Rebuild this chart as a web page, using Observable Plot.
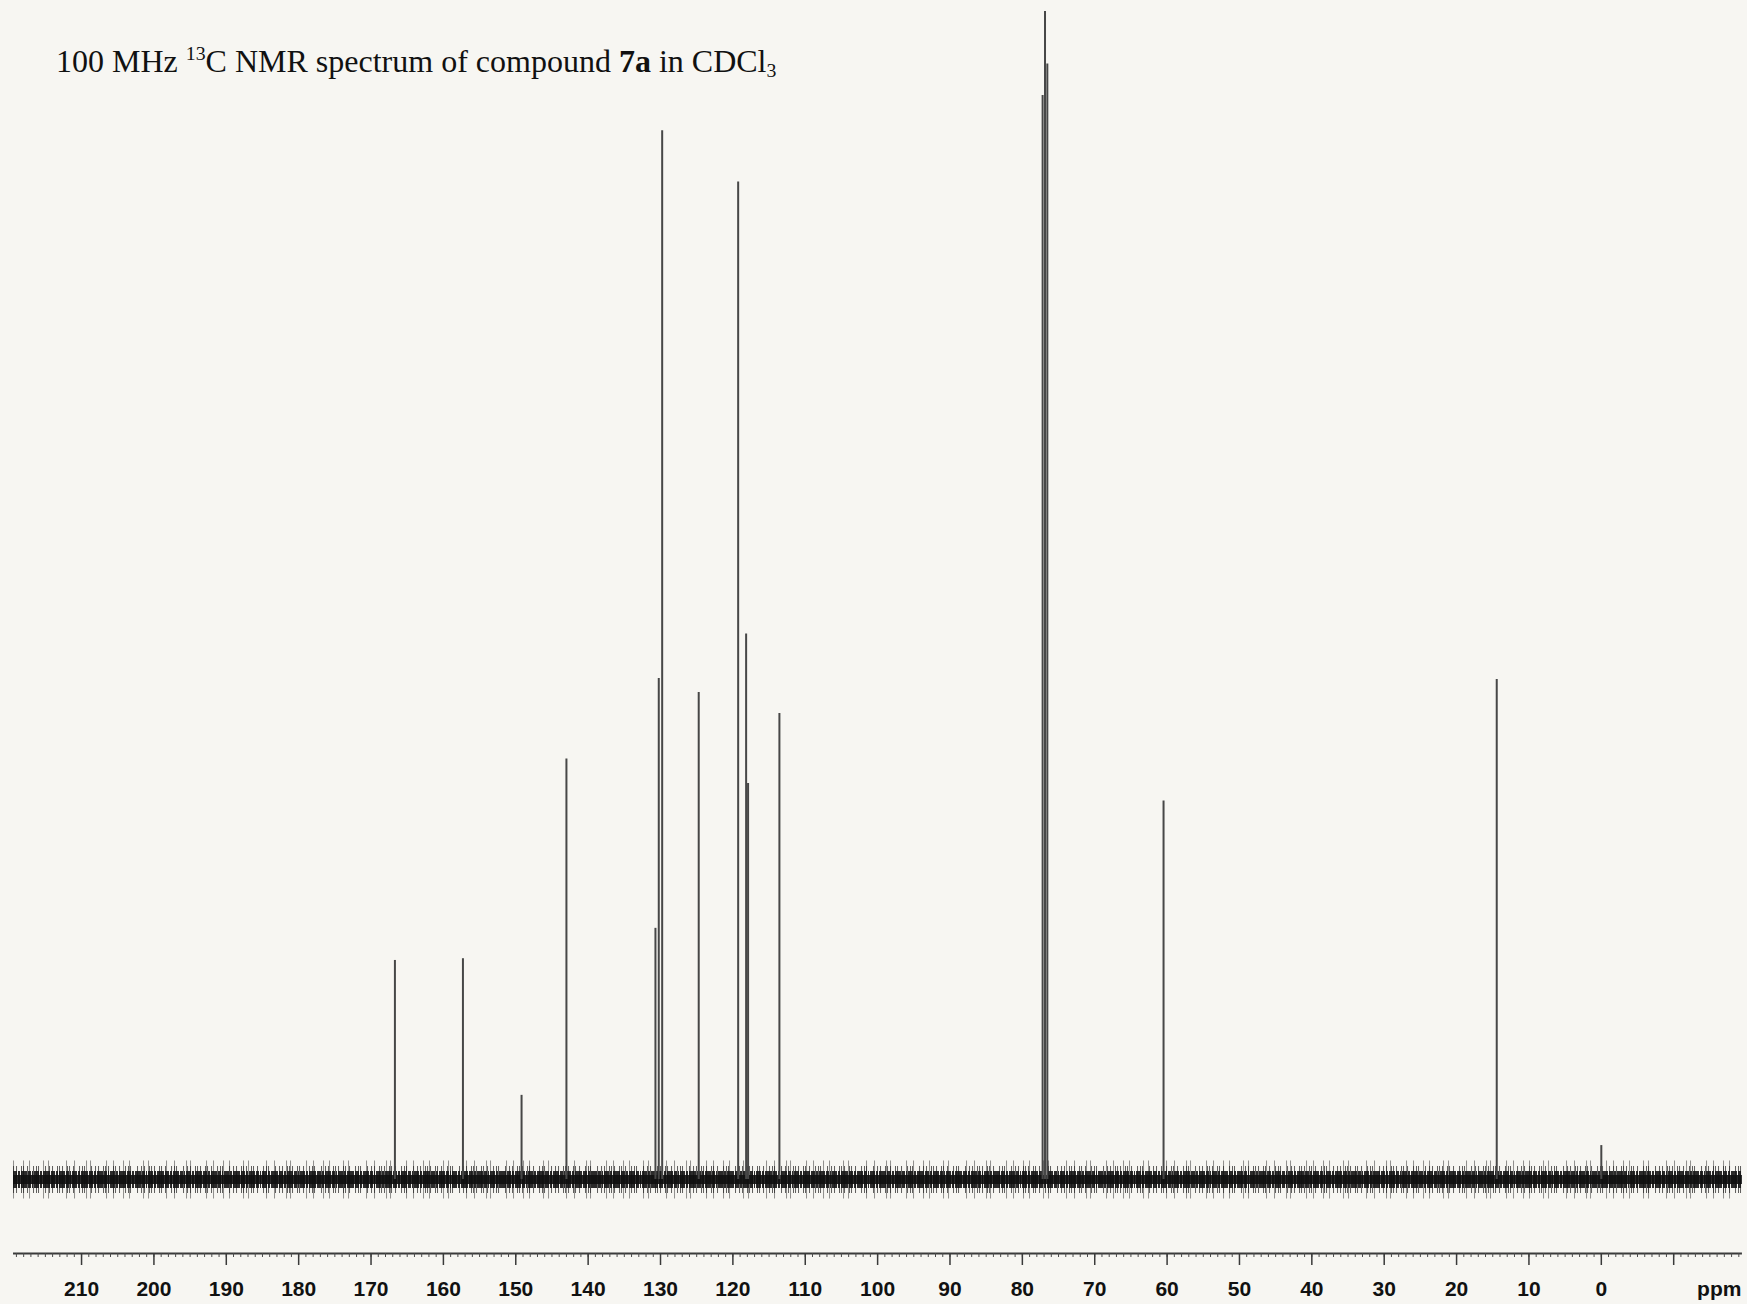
<!DOCTYPE html>
<html>
<head>
<meta charset="utf-8">
<script src="https://cdn.jsdelivr.net/npm/d3@7"></script>
<script src="https://cdn.jsdelivr.net/npm/@observablehq/plot@0.6"></script>
<style>
  html, body { margin: 0; padding: 0; background: #f7f6f2; }
  #wrap { position: relative; width: 1747px; height: 1304px; overflow: hidden; }
  #title {
    position: absolute; left: 56px; top: 43px;
    font-family: "Liberation Serif", "Times New Roman", serif;
    font-size: 32px; color: #111; white-space: nowrap;
  }
  #title sup { font-size: 0.62em; vertical-align: 0.62em; line-height: 0; }
  #title sub { font-size: 0.62em; vertical-align: -0.25em; line-height: 0; }
</style>
</head>
<body>
<div id="wrap">
  <div id="chart"></div>
  <div id="title">100 MHz <sup>13</sup>C NMR spectrum of compound <b>7a</b> in CDCl<sub>3</sub></div>
</div>
<script>
// chemical shifts (ppm) and relative intensities (tallest = 100)
const peakShifts  = [166.7, 157.3, 149.2, 143.0, 130.7, 130.24, 129.77, 124.72, 119.27, 118.17, 117.9, 113.57, 77.2, 76.87, 76.55, 60.49, 14.45, 0.0];
const peakHeights = [18.75, 18.9, 7.2, 36.0, 21.5, 42.9, 89.8, 41.7, 85.4, 46.7, 33.9, 39.9, 92.8, 100, 95.5, 32.4, 42.8, 2.9];

// baseline noise extent (ppm)
const noiseExtent = [219.4, -19.5];

// axis ticks
const majorTicks = d3.range(210, -11, -10);
const minorTicks = d3.range(219, -20, -1);
const tickLabels = majorTicks.map(d => d >= 0 ? String(d) : "");
const axisExtent = [219.4, -19.5];

const peaks = peakShifts.map((x, i) => ({x, h: peakHeights[i]}));
const labelFor = new Map(majorTicks.map((d, i) => [d, tickLabels[i]]));

const axisFont = '"Liberation Sans", Arial, sans-serif';

const chart = Plot.plot({
  width: 1747,
  height: 1304,
  marginLeft: 0,
  marginRight: 0,
  marginTop: 11,
  marginBottom: 51,
  style: {background: "transparent", overflow: "visible"},
  x: {domain: [221.2, -20.2], axis: null, label: null},
  y: {domain: [-6.34, 100], axis: null, label: null},
  marks: [
    // noise texture along the baseline
    Plot.ruleY([0], {x1: noiseExtent[0], x2: noiseExtent[1], stroke: "#2a2a2a", strokeWidth: 38, strokeOpacity: 0.5,
      strokeDasharray: "1 9 1 5 1 13 1 4 1 17 1 7 1 11 1 3 1 15 1 6"}),
    Plot.ruleY([0], {x1: noiseExtent[0], x2: noiseExtent[1], stroke: "#1e1e1e", strokeWidth: 27, strokeOpacity: 0.7,
      strokeDasharray: "1 2 1 4 1 1 1 3 1 5 1 2 1 1 1 6 1 3 1 2 1 4 1 1"}),
    Plot.ruleY([0], {x1: noiseExtent[0], x2: noiseExtent[1], stroke: "#151515", strokeWidth: 17, strokeOpacity: 0.9,
      strokeDasharray: "4 1 2 1 6 1 3 1 1 1 5 1 2 1 7 1"}),
    Plot.ruleY([0], {x1: noiseExtent[0], x2: noiseExtent[1], stroke: "#0f0f0f", strokeWidth: 9, strokeOpacity: 0.9}),
    Plot.ruleX(peaks, {x: "x", y1: 0, y2: "h", stroke: "#474747", strokeWidth: 2}),
    Plot.ruleY([-6.34], {x1: axisExtent[0], x2: axisExtent[1], stroke: "#3a3a3a", strokeWidth: 2}),
    Plot.axisX({anchor: "bottom", label: null, ticks: minorTicks, tickSize: 4, tickFormat: () => "", stroke: "#4a4a4a", strokeWidth: 1}),
    Plot.axisX({anchor: "bottom", label: null, ticks: majorTicks, tickSize: 12, tickPadding: 16,
      tickFormat: d => labelFor.get(d) ?? "", stroke: "#3a3a3a", strokeWidth: 1.5,
      fill: "#111", fontSize: 21, fontWeight: "bold", fontFamily: axisFont}),
    Plot.text(["ppm"], {x: -16.3, y: -6.34, dy: 36, fill: "#111", fontSize: 21, fontWeight: "bold", fontFamily: axisFont})
  ]
});
document.getElementById("chart").appendChild(chart);
</script>
</body>
</html>
